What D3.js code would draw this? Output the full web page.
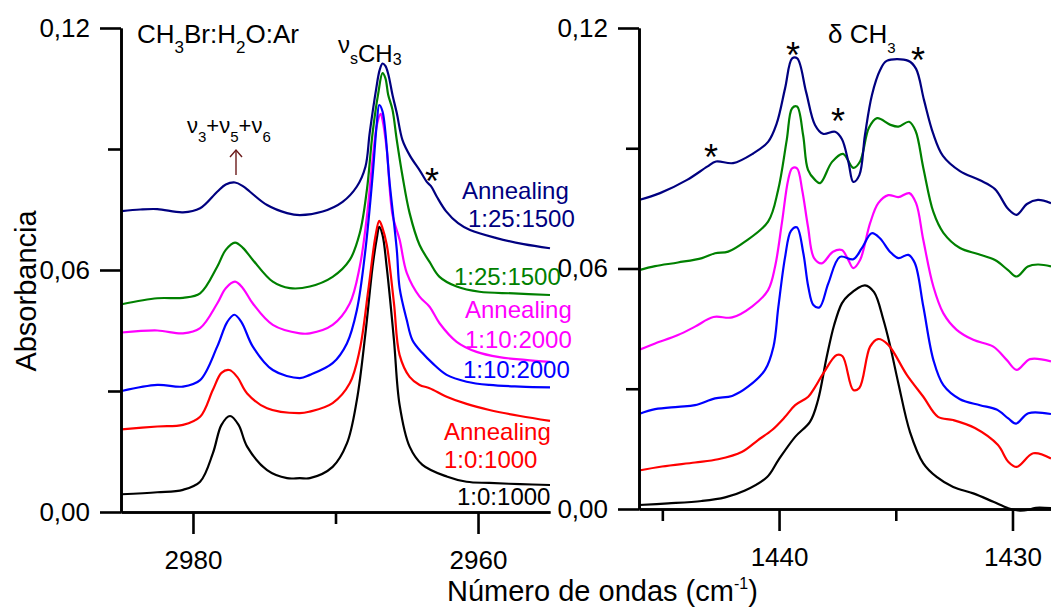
<!DOCTYPE html>
<html><head><meta charset="utf-8">
<script src="https://cdn.jsdelivr.net/npm/d3@7"></script>
<style>
body{margin:0;background:#fff;}
svg{display:block;font-family:"Liberation Sans",Arial,sans-serif;}
</style></head><body>
<svg id="chart" width="1051" height="607"></svg>
<script>
// ---------- DATA (wavenumber cm-1, absorbance) ----------
const leftXTicks = [2980, 2960];
const leftXMinor = [2970];
const rightXTicks = [1440, 1430];
const rightXMinor = [1445, 1435];
const yTicks = [0, 0.06, 0.12];
const yMinor = [0.03, 0.09];

const leftNavy = [[2985.0,0.0746],[2983.7,0.0750],[2982.5,0.0751],[2980.7,0.0743],[2979.5,0.0753],[2978.3,0.0794],[2977.7,0.0812],[2977.05,0.0817],[2976.5,0.0808],[2976.0,0.0794],[2974.8,0.0761],[2973.4,0.0741],[2972.5,0.0736],[2970.9,0.0745],[2969.5,0.0769],[2968.5,0.0807],[2967.9,0.0856],[2967.6,0.0940],[2967.16,0.1046],[2966.9,0.1096],[2966.7,0.1112],[2966.5,0.1106],[2966.3,0.1086],[2966.0,0.1034],[2965.7,0.0989],[2965.3,0.0922],[2964.77,0.0883],[2964.07,0.0846],[2963.58,0.0818],[2963.3,0.0808],[2962.88,0.0781],[2962.25,0.0746],[2961.4,0.0716],[2960.56,0.0699],[2958.7,0.0679],[2956.8,0.0664],[2954.95,0.0654]];
const leftGreen = [[2985.0,0.0515],[2982.5,0.0530],[2980.7,0.0531],[2979.5,0.0542],[2978.3,0.0608],[2977.7,0.0650],[2977.05,0.0668],[2976.5,0.0655],[2975.8,0.0625],[2974.4,0.0571],[2973.2,0.0555],[2971.8,0.0559],[2970.2,0.0583],[2969.0,0.0625],[2968.3,0.0691],[2967.8,0.0798],[2967.4,0.0939],[2967.0,0.1038],[2966.7,0.1088],[2966.5,0.1076],[2966.3,0.1034],[2966.0,0.0997],[2965.7,0.0922],[2965.3,0.0833],[2964.8,0.0741],[2964.1,0.0662],[2963.4,0.0620],[2962.7,0.0583],[2961.5,0.0559],[2959.9,0.0546],[2957.5,0.0542],[2954.95,0.0538]];
const leftMagenta = [[2985.0,0.0445],[2982.5,0.0450],[2980.7,0.0443],[2979.5,0.0456],[2978.3,0.0517],[2977.7,0.0555],[2977.05,0.0571],[2976.5,0.0555],[2975.8,0.0517],[2974.4,0.0464],[2972.5,0.0443],[2971.8,0.0443],[2970.2,0.0464],[2969.0,0.0517],[2968.3,0.0608],[2967.8,0.0732],[2967.4,0.0873],[2967.07,0.0964],[2966.83,0.0987],[2966.7,0.0972],[2966.4,0.0898],[2966.0,0.0737],[2965.5,0.0675],[2965.0,0.0593],[2964.1,0.0534],[2963.4,0.0509],[2962.7,0.0468],[2961.5,0.0422],[2960.1,0.0397],[2958.5,0.0384],[2956.7,0.0377],[2954.95,0.0372]];
const leftBlue = [[2985.0,0.0300],[2982.5,0.0315],[2980.7,0.0311],[2979.5,0.0327],[2978.3,0.0410],[2977.6,0.0471],[2977.1,0.0489],[2976.6,0.0471],[2975.8,0.0410],[2974.4,0.0352],[2972.5,0.0332],[2971.8,0.0340],[2970.2,0.0369],[2969.2,0.0418],[2968.5,0.0501],[2967.9,0.0650],[2967.4,0.0832],[2967.1,0.0964],[2966.93,0.1009],[2966.7,0.0993],[2966.2,0.0815],[2965.7,0.0650],[2965.5,0.0555],[2965.0,0.0476],[2964.6,0.0426],[2963.9,0.0394],[2963.2,0.0369],[2962.2,0.0340],[2960.8,0.0323],[2959.2,0.0315],[2957.05,0.0311],[2954.95,0.0309]];
const leftRed = [[2985.0,0.0205],[2982.5,0.0212],[2980.7,0.0216],[2979.5,0.0236],[2978.6,0.0303],[2978.0,0.0345],[2977.45,0.0352],[2976.9,0.0335],[2976.2,0.0294],[2974.8,0.0257],[2972.5,0.0245],[2971.8,0.0249],[2970.2,0.0270],[2969.0,0.0319],[2968.3,0.0402],[2967.7,0.0550],[2967.2,0.0683],[2966.93,0.0722],[2966.7,0.0704],[2966.4,0.0662],[2965.9,0.0518],[2965.5,0.0389],[2964.8,0.0335],[2964.1,0.0315],[2963.4,0.0307],[2962.2,0.0286],[2960.8,0.0268],[2959.2,0.0253],[2957.05,0.0238],[2954.95,0.0226]];
const leftBlack = [[2985.0,0.0044],[2982.5,0.0049],[2980.7,0.0055],[2979.5,0.0075],[2978.6,0.0146],[2978.0,0.0216],[2977.4,0.0238],[2976.8,0.0216],[2976.2,0.0162],[2974.8,0.0104],[2973.4,0.0084],[2972.5,0.0084],[2971.8,0.0084],[2970.2,0.0112],[2969.2,0.0170],[2968.5,0.0278],[2967.9,0.0443],[2967.4,0.0608],[2967.1,0.0679],[2966.93,0.0707],[2966.7,0.0687],[2966.4,0.0605],[2965.9,0.0427],[2965.5,0.0265],[2964.8,0.0162],[2963.9,0.0117],[2962.2,0.0088],[2960.8,0.0075],[2959.2,0.0072],[2957.05,0.0069],[2954.95,0.0067]];

const rightNavy = [[1446.0,0.0771],[1445.1,0.0788],[1443.94,0.0821],[1443.08,0.0854],[1442.7,0.0867],[1441.97,0.0863],[1441.11,0.0887],[1440.47,0.0916],[1440.1,0.0962],[1439.74,0.1050],[1439.44,0.1124],[1439.22,0.1124],[1438.84,0.1040],[1438.46,0.0958],[1438.12,0.0936],[1437.6,0.0941],[1437.31,0.0923],[1437.03,0.0866],[1436.82,0.0816],[1436.56,0.0833],[1436.32,0.0933],[1436.02,0.1033],[1435.67,0.1095],[1435.39,0.1118],[1434.46,0.1118],[1434.13,0.1098],[1433.79,0.1020],[1433.4,0.0937],[1432.98,0.0881],[1432.25,0.0843],[1431.39,0.0820],[1430.75,0.0798],[1430.19,0.0749],[1429.82,0.0734],[1429.38,0.0761],[1428.91,0.0771],[1428.35,0.0763]];
const rightGreen = [[1446.0,0.0596],[1445.31,0.0606],[1444.33,0.0615],[1443.3,0.0626],[1442.74,0.0638],[1442.18,0.0642],[1441.46,0.0667],[1440.47,0.0717],[1440.04,0.0796],[1439.67,0.0921],[1439.44,0.1000],[1439.23,0.1004],[1438.97,0.0933],[1438.76,0.0846],[1438.46,0.0821],[1438.24,0.0813],[1437.73,0.0866],[1437.26,0.0886],[1436.82,0.0851],[1436.53,0.0867],[1436.15,0.0951],[1435.8,0.0975],[1435.25,0.0959],[1434.89,0.0954],[1434.43,0.0966],[1434.15,0.0943],[1433.82,0.0851],[1433.39,0.0741],[1432.96,0.0689],[1432.25,0.0651],[1431.48,0.0636],[1430.75,0.0621],[1430.19,0.0596],[1429.82,0.0580],[1429.34,0.0605],[1428.91,0.0610],[1428.35,0.0605]];
const rightMagenta = [[1446.0,0.0397],[1445.31,0.0413],[1444.33,0.0434],[1443.6,0.0455],[1442.81,0.0479],[1442.01,0.0478],[1441.16,0.0505],[1440.47,0.0546],[1440.17,0.0605],[1439.88,0.0713],[1439.61,0.0821],[1439.44,0.0850],[1439.23,0.0850],[1439.01,0.0796],[1438.76,0.0704],[1438.5,0.0626],[1438.17,0.0613],[1437.69,0.0642],[1437.31,0.0646],[1437.03,0.0621],[1436.82,0.0601],[1436.53,0.0621],[1436.1,0.0713],[1435.75,0.0763],[1435.32,0.0783],[1434.89,0.0778],[1434.42,0.0788],[1434.13,0.0763],[1433.82,0.0671],[1433.39,0.0555],[1432.96,0.0488],[1432.39,0.0447],[1431.68,0.0422],[1430.82,0.0405],[1430.25,0.0372],[1429.82,0.0347],[1429.25,0.0374],[1428.35,0.0368]];
const rightBlue = [[1446.0,0.0237],[1445.31,0.0249],[1444.33,0.0255],[1443.6,0.0259],[1442.74,0.0276],[1442.01,0.0282],[1441.33,0.0305],[1440.6,0.0347],[1440.24,0.0405],[1440.03,0.0504],[1439.74,0.0629],[1439.49,0.0694],[1439.24,0.0703],[1438.96,0.0638],[1438.75,0.0555],[1438.53,0.0509],[1438.27,0.0503],[1437.89,0.0563],[1437.39,0.0629],[1436.82,0.0623],[1436.46,0.0650],[1436.03,0.0688],[1435.67,0.0675],[1435.25,0.0642],[1434.89,0.0626],[1434.46,0.0634],[1434.18,0.0613],[1433.82,0.0505],[1433.39,0.0372],[1432.96,0.0309],[1432.25,0.0274],[1431.39,0.0259],[1430.68,0.0248],[1430.18,0.0226],[1429.85,0.0213],[1429.32,0.0239],[1428.35,0.0237]];
const rightRed = [[1446.0,0.0096],[1445.01,0.0106],[1443.6,0.0116],[1442.61,0.0124],[1441.58,0.0143],[1440.9,0.0172],[1440.3,0.0197],[1439.74,0.0230],[1439.31,0.0259],[1438.75,0.0280],[1438.46,0.0304],[1438.1,0.0339],[1437.53,0.0384],[1437.28,0.0381],[1436.82,0.0297],[1436.56,0.0302],[1436.1,0.0405],[1435.76,0.0424],[1435.33,0.0410],[1434.52,0.0334],[1433.82,0.0280],[1433.19,0.0230],[1432.54,0.0222],[1431.61,0.0202],[1430.63,0.0160],[1430.18,0.0118],[1429.82,0.0105],[1429.11,0.0139],[1428.35,0.0126]];
const rightBlack = [[1446.0,0.0010],[1444.75,0.0014],[1443.31,0.0020],[1442.31,0.0029],[1441.46,0.0046],[1440.51,0.0080],[1440.03,0.0122],[1439.31,0.0180],[1438.67,0.0218],[1438.33,0.0272],[1437.96,0.0379],[1437.64,0.0459],[1437.31,0.0513],[1437.03,0.0533],[1436.32,0.0558],[1435.93,0.0541],[1435.53,0.0472],[1435.25,0.0409],[1434.89,0.0314],[1434.39,0.0192],[1433.82,0.0114],[1433.25,0.0080],[1432.54,0.0055],[1431.68,0.0039],[1430.82,0.0018],[1430.18,0.0002],[1429.68,-0.0004],[1429.25,-0.0001],[1428.99,0.0003],[1428.35,0.0002]];

const seriesColors = {black:"#000000", red:"#ff0000", blue:"#0000ff", magenta:"#ff00ff", green:"#008000", navy:"#000080"};
const leftSeries = [["black",leftBlack],["red",leftRed],["magenta",leftMagenta],["blue",leftBlue],["green",leftGreen],["navy",leftNavy]];
const rightSeries = [["black",rightBlack],["red",rightRed],["magenta",rightMagenta],["blue",rightBlue],["green",rightGreen],["navy",rightNavy]];

// ---------- DRAW ----------
const svg = d3.select("#chart");
const xL = d3.scaleLinear().domain([2985.05, 2954.95]).range([121, 550]);
const yL = d3.scaleLinear().domain([0, 0.12]).range([512, 28]);
const xR = d3.scaleLinear().domain([1446.0, 1428.35]).range([639, 1051]);
const yR = d3.scaleLinear().domain([0, 0.12]).range([509, 28]);

const fmtY = d => d3.format(".2f")(d).replace(".", ",");

function drawLines(series, x, y, curve) {
  const line = d3.line().x(d => x(d[0])).y(d => y(d[1])).curve(curve);
  series.forEach(([c, data]) => {
    svg.append("path").datum(data).attr("d", line)
      .attr("fill", "none").attr("stroke", seriesColors[c])
      .attr("stroke-width", 2.2).attr("stroke-linejoin", "round");
  });
}
drawLines(leftSeries, xL, yL, d3.curveCatmullRom.alpha(0.5));
drawLines(rightSeries, xR, yR, d3.curveCatmullRom.alpha(0.5));

function styleAxis(g) {
  g.selectAll("path,line").attr("stroke", "#000").attr("stroke-width", 2.6);
  g.selectAll("text").attr("font-size", 26).attr("fill", "#000")
    .attr("font-family", '"Liberation Sans",Arial,sans-serif');
}
function drawAxes(x, y, xt, xm) {
  const y0 = y.range()[0], x0 = x.range()[0];
  svg.append("g").attr("transform", `translate(${x0},0)`)
    .call(d3.axisLeft(y).tickValues(yMinor).tickSize(13).tickFormat("").tickSizeOuter(0)).call(styleAxis);
  svg.append("g").attr("transform", `translate(${x0},0)`)
    .call(d3.axisLeft(y).tickValues(yTicks).tickSize(21).tickPadding(10).tickFormat(fmtY).tickSizeOuter(0)).call(styleAxis);
  svg.append("g").attr("transform", `translate(0,${y0})`)
    .call(d3.axisBottom(x).tickValues(xm).tickSize(12).tickFormat("").tickSizeOuter(0)).call(styleAxis);
  svg.append("g").attr("transform", `translate(0,${y0})`)
    .call(d3.axisBottom(x).tickValues(xt).tickSize(22).tickPadding(17).tickFormat(d3.format("d")).tickSizeOuter(0)).call(styleAxis);
}
drawAxes(xL, yL, leftXTicks, leftXMinor);
drawAxes(xR, yR, rightXTicks, rightXMinor);

// axis titles
svg.append("text").attr("transform", "translate(36,291) rotate(-90)")
  .attr("text-anchor", "middle").attr("font-size", 29).text("Absorbancia");

function rich(x, parts, color) {
  const t = svg.append("text").attr("x", x).attr("fill", color || "#000");
  parts.forEach(p => t.append("tspan").attr("y", p[1]).attr("font-size", p[2]).text(p[0]));
  return t;
}
rich(447, [["Número de ondas (cm", 601, 29], ["-1", 589, 16], [")", 601, 29]]);

// annotations
rich(137, [["CH", 43, 26], ["3", 53, 17], ["Br:H", 43, 26], ["2", 53, 17], ["O:Ar", 43, 26]]);
rich(338, [["ν", 53, 24], ["s", 64, 16], ["CH", 62, 24], ["3", 65, 16]]);
rich(187, [["ν", 133, 22], ["3", 142, 15], ["+", 133, 22], ["ν", 133, 22], ["5", 142, 15], ["+", 133, 22], ["ν", 133, 22], ["6", 142, 15]]);
rich(828, [["δ CH", 43, 26], ["3", 53, 15]]);

// arrow
const arrowColor = "#6b1a1a";
svg.append("line").attr("x1", 236).attr("x2", 236).attr("y1", 175).attr("y2", 150)
  .attr("stroke", arrowColor).attr("stroke-width", 1.4);
svg.append("path").attr("d", "M230,157 L236,150 L242,157").attr("fill", "none")
  .attr("stroke", arrowColor).attr("stroke-width", 1.4);

// stars
const stars = [[432,173],[793,47],[838,113],[711,149],[918,52]];
stars.forEach(s => svg.append("text").attr("x", s[0]).attr("y", s[1] + 20.5)
  .attr("text-anchor", "middle").attr("font-size", 36).text("*"));

// series labels
const labels = [
  ["Annealing", 462, 199, "navy"], ["1:25:1500", 468, 227, "navy"],
  ["1:25:1500", 454, 285, "green"],
  ["Annealing", 465, 318, "magenta"], ["1:10:2000", 465, 348, "magenta"],
  ["1:10:2000", 463, 378, "blue"],
  ["Annealing", 444, 440, "red"], ["1:0:1000", 444, 468, "red"],
  ["1:0:1000", 457, 505, "black"]
];
labels.forEach(l => svg.append("text").attr("x", l[1]).attr("y", l[2])
  .attr("font-size", 24).attr("fill", seriesColors[l[3]]).text(l[0]));
</script></body></html>
